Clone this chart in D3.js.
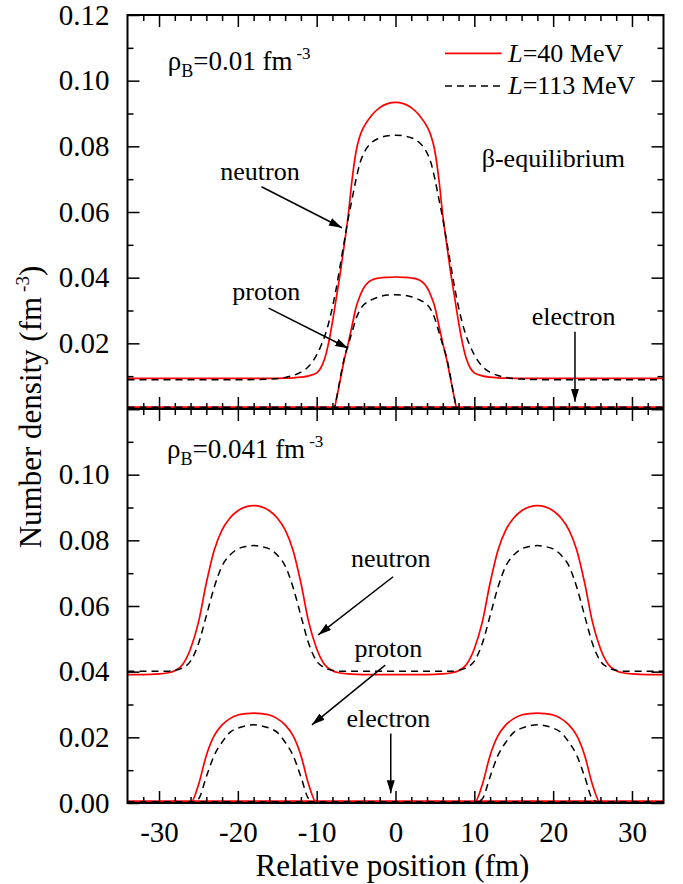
<!DOCTYPE html>
<html><head><meta charset="utf-8">
<script src="https://cdn.jsdelivr.net/npm/d3@7"></script>
<style>
body{margin:0;background:#fff}
svg text{font-family:'Liberation Serif','Times New Roman',Tinos,'Nimbus Roman','DejaVu Serif',serif;fill:#000}
</style>
</head><body>
<svg id="c" width="683" height="884"></svg>
<script>
// ---------------- DATA ----------------
// Top panel (rho_B = 0.01 fm^-3), beta-equilibrium
const topNeutronX = [-34,-20,-16,-14,-13,-12,-11,-10,-9.5,-9,-8.5,-8,-7.5,-7,-6.5,-6,-5.5,-5,-4.5,-4,-3,-2,-1,0,1,2,3,4,4.5,5,5.5,6,6.5,7,7.5,8,8.5,9,9.5,10,11,12,13,14,16,20,34];
const topNeutronL40 = [0.0093,0.0093,0.0093,0.0094,0.0095,0.0097,0.0101,0.0110,0.0124,0.0152,0.0200,0.0265,0.0340,0.0415,0.0500,0.0590,0.0700,0.0785,0.0832,0.0860,0.0895,0.0918,0.0930,
  0.0934,
  0.0930,0.0918,0.0895,0.0860,0.0832,0.0785,0.0700,0.0590,0.0500,0.0415,0.0340,0.0265,0.0200,0.0152,0.0124,0.0110,0.0101,0.0097,0.0095,0.0094,0.0093,0.0093,0.0093];
const topNeutronL113 = [0.0089,0.0089,0.0091,0.0096,0.0102,0.0112,0.0130,0.0165,0.0190,0.0220,0.0260,0.0310,0.0370,0.0440,0.0510,0.0580,0.0640,0.0700,0.0750,0.0780,0.0812,0.0826,0.0832,
  0.0834,
  0.0832,0.0826,0.0812,0.0780,0.0750,0.0700,0.0640,0.0580,0.0510,0.0440,0.0370,0.0310,0.0260,0.0220,0.0190,0.0165,0.0130,0.0112,0.0102,0.0096,0.0091,0.0089,0.0089];

const topProtonX = [-34,-8,-7.8,-7.5,-7,-6.5,-6,-5.5,-5,-4.5,-4,-3.5,-3,-2,-1,0,1,2,3,3.5,4,4.5,5,5.5,6,6.5,7,7.5,7.8,8,34];
const topProtonL40 = [0,0,0,0.0030,0.0090,0.0150,0.0200,0.0255,0.0310,0.0345,0.0370,0.0385,0.0393,0.0399,0.0401,
  0.0402,
  0.0401,0.0399,0.0393,0.0385,0.0370,0.0345,0.0310,0.0255,0.0200,0.0150,0.0090,0.0030,0,0,0];
const topProtonL113 = [0,0,0,0.0030,0.0095,0.0155,0.0195,0.0235,0.0275,0.0302,0.0318,0.0327,0.0333,0.0342,0.0347,
  0.0348,
  0.0347,0.0342,0.0333,0.0327,0.0318,0.0302,0.0275,0.0235,0.0195,0.0155,0.0095,0.0030,0,0,0];

const electronX = [-34,34];
const topElectronL40 = [0.0006,0.0006];
const topElectronL113 = [0.0005,0.0005];

// Bottom panel (rho_B = 0.041 fm^-3)
const botX = [-34,-32,-30,-29,-28,-27,-26,-25,-24,-23,-22,-21,-20,-19,-18,-17,-16,-15,-14,-13,-12,-11,-10,-9,-8,-7,-6,-4,-2,0,2,4,6,7,8,9,10,11,12,13,14,15,16,17,18,19,20,21,22,23,24,25,26,27,28,29,30,32,34];
const botNeutronL40 = [0.0391,0.0391,0.0393,0.0396,0.0403,0.0422,0.0470,0.0550,0.0670,0.0770,0.0832,0.0868,0.0890,0.0902,0.0906,0.0902,0.0890,0.0868,0.0832,0.0770,0.0670,0.0550,0.0470,0.0422,0.0403,0.0396,0.0393,0.0391,0.0391,0.0391,
  0.0391,0.0391,0.0393,0.0396,0.0403,0.0422,0.0470,0.0550,0.0670,0.0770,0.0832,0.0868,0.0890,0.0902,0.0906,0.0902,0.0890,0.0868,0.0832,0.0770,0.0670,0.0550,0.0470,0.0422,0.0403,0.0396,0.0393,0.0391,0.0391];
const botNeutronL113 = [0.0401,0.0401,0.0401,0.0401,0.0404,0.0412,0.0432,0.0485,0.0570,0.0657,0.0722,0.0755,0.0774,0.0781,0.0784,0.0781,0.0774,0.0755,0.0722,0.0657,0.0570,0.0485,0.0432,0.0412,0.0404,0.0401,0.0401,0.0401,0.0401,0.0401,
  0.0401,0.0401,0.0401,0.0401,0.0404,0.0412,0.0432,0.0485,0.0570,0.0657,0.0722,0.0755,0.0774,0.0781,0.0784,0.0781,0.0774,0.0755,0.0722,0.0657,0.0570,0.0485,0.0432,0.0412,0.0404,0.0401,0.0401,0.0401,0.0401];
const botProtonL40 = [0,0,0,0,0,0,0,0.0055,0.0145,0.0205,0.0238,0.0257,0.0268,0.0272,0.0274,0.0272,0.0268,0.0257,0.0238,0.0205,0.0145,0.0055,0,0,0,0,0,0,0,0,
  0,0,0,0,0,0,0,0.0055,0.0145,0.0205,0.0238,0.0257,0.0268,0.0272,0.0274,0.0272,0.0268,0.0257,0.0238,0.0205,0.0145,0.0055,0,0,0,0,0,0,0];
const botProtonL113 = [0,0,0,0,0,0,0,0.0012,0.0080,0.0145,0.0185,0.0215,0.0228,0.0235,0.0238,0.0235,0.0228,0.0215,0.0185,0.0145,0.0080,0.0012,0,0,0,0,0,0,0,0,
  0,0,0,0,0,0,0,0.0012,0.0080,0.0145,0.0185,0.0215,0.0228,0.0235,0.0238,0.0235,0.0228,0.0215,0.0185,0.0145,0.0080,0.0012,0,0,0,0,0,0,0];
const botElectronL40 = [0.0006,0.0006];
const botElectronL113 = [0.0004,0.0004];

// Ticks
const xMajorTicks = [-30,-20,-10,0,10,20,30];
const xMinorTicks = [-32,-28,-26,-24,-22,-18,-16,-14,-12,-8,-6,-4,-2,2,4,6,8,12,14,16,18,22,24,26,28,32];
const yMajorTicks = [0,0.02,0.04,0.06,0.08,0.10,0.12];
const yMinorTicks = [0.01,0.03,0.05,0.07,0.09,0.11];
const topYLabels = ["","0.02","0.04","0.06","0.08","0.10","0.12"];
const botYLabels = ["0.00","0.02","0.04","0.06","0.08","0.10",""];
const xLabels = ["-30","-20","-10","0","10","20","30"];

const seriesNames = ["L=40 MeV","L=113 MeV"];

// ---------------- LAYOUT ----------------
const L = 127.5, R = 663.5, T = 15, M = 409, B = 803;
const FONT_TICK = 29, FONT_TITLE = 30, FONT_ANN = 26;
const SERIF = "'Liberation Serif','Times New Roman',Tinos,'Nimbus Roman','DejaVu Serif',serif";
const RED = "#ff0000";
const DASH = "7,5";

const svg = d3.select("#c").attr("font-family", SERIF);
const x = d3.scaleLinear().domain([-34,34]).range([L,R]);
const yTop = d3.scaleLinear().domain([0,0.12]).range([M,T]);
const yBot = d3.scaleLinear().domain([0,0.12]).range([B,M]);

const defs = svg.append("defs");
defs.append("marker").attr("id","arr").attr("markerUnits","userSpaceOnUse")
  .attr("markerWidth",14).attr("markerHeight",10).attr("refX",13).attr("refY",4)
  .attr("orient","auto")
  .append("path").attr("d","M0,0 L13,4 L0,8 Z").attr("fill","#000");
defs.append("clipPath").attr("id","clipTop").append("rect")
  .attr("x",L).attr("y",T).attr("width",R-L).attr("height",M-T);
defs.append("clipPath").attr("id","clipBot").append("rect")
  .attr("x",L).attr("y",M).attr("width",R-L).attr("height",B-M);

// ---------------- CURVES ----------------
function drawSeries(clip, y, xs, ys, style){
  const pts = xs.map((v,i)=>[v, ys[i]]);
  const line = d3.line().x(d=>x(d[0])).y(d=>y(d[1])).curve(d3.curveMonotoneX);
  const p = svg.append("path").attr("clip-path",`url(#${clip})`)
    .attr("d", line(pts)).attr("fill","none");
  if(style==="red") p.attr("stroke",RED).attr("stroke-width",1.7);
  else p.attr("stroke","#000").attr("stroke-width",1.5).attr("stroke-dasharray",DASH);
}
drawSeries("clipTop", yTop, topNeutronX, topNeutronL40, "red");
drawSeries("clipTop", yTop, topProtonX, topProtonL40, "red");
drawSeries("clipTop", yTop, electronX, topElectronL40, "red");
drawSeries("clipBot", yBot, botX, botNeutronL40, "red");
drawSeries("clipBot", yBot, botX, botProtonL40, "red");
drawSeries("clipBot", yBot, electronX, botElectronL40, "red");
drawSeries("clipTop", yTop, topNeutronX, topNeutronL113, "black");
drawSeries("clipTop", yTop, topProtonX, topProtonL113, "black");
drawSeries("clipTop", yTop, electronX, topElectronL113, "black");
drawSeries("clipBot", yBot, botX, botNeutronL113, "black");
drawSeries("clipBot", yBot, botX, botProtonL113, "black");
drawSeries("clipBot", yBot, electronX, botElectronL113, "black");

// ---------------- AXES ----------------
function styleAxis(g){
  g.select(".domain").remove();
  g.attr("font-family", SERIF).attr("font-size", FONT_TICK);
  g.selectAll(".tick line").attr("stroke","#000").attr("stroke-width",1.5);
  g.selectAll("text").attr("fill","#000");
}
function xAxes(yPos, orientTop, withLabels){
  const mk = orientTop ? d3.axisTop : d3.axisBottom;
  svg.append("g").attr("transform",`translate(0,${yPos})`)
    .call(mk(x).tickValues(xMajorTicks).tickSize(-12).tickPadding(18)
      .tickFormat((d,i)=> withLabels ? xLabels[i] : ""))
    .call(styleAxis);
  svg.append("g").attr("transform",`translate(0,${yPos})`)
    .call(mk(x).tickValues(xMinorTicks).tickSize(-6).tickFormat(""))
    .call(styleAxis);
}
function yAxes(y, labels){
  svg.append("g").attr("transform",`translate(${L},0)`)
    .call(d3.axisLeft(y).tickValues(yMajorTicks).tickSize(-12).tickPadding(18)
      .tickFormat((d,i)=>labels[i]))
    .call(styleAxis);
  svg.append("g").attr("transform",`translate(${L},0)`)
    .call(d3.axisLeft(y).tickValues(yMinorTicks).tickSize(-6).tickFormat(""))
    .call(styleAxis);
  svg.append("g").attr("transform",`translate(${R},0)`)
    .call(d3.axisRight(y).tickValues(yMajorTicks).tickSize(-12).tickFormat(""))
    .call(styleAxis);
  svg.append("g").attr("transform",`translate(${R},0)`)
    .call(d3.axisRight(y).tickValues(yMinorTicks).tickSize(-6).tickFormat(""))
    .call(styleAxis);
}
xAxes(T, true, false);
xAxes(M, false, false);
xAxes(M, true, false);
xAxes(B, false, true);
yAxes(yTop, topYLabels);
yAxes(yBot, botYLabels);

svg.append("rect").attr("x",L).attr("y",T).attr("width",R-L).attr("height",B-T)
  .attr("fill","none").attr("stroke","#000").attr("stroke-width",2);
svg.append("line").attr("x1",L).attr("x2",R).attr("y1",M).attr("y2",M)
  .attr("stroke","#000").attr("stroke-width",2);

// ---------------- TITLES ----------------
svg.append("text").attr("x",(L+R)/2 - 3).attr("y",876).attr("text-anchor","middle")
  .attr("font-size",FONT_TITLE + 1).text("Relative position (fm)");

const yt = svg.append("text").attr("transform",`translate(41,${(T+B)/2 - 2}) rotate(-90)`)
  .attr("text-anchor","middle").attr("font-size",FONT_TITLE + 1);
yt.append("tspan").text("Number density (fm");
yt.append("tspan").attr("dx",5).attr("dy",-12).attr("font-size",19).text("-3");
yt.append("tspan").attr("dy",12).text(")");

// ---------------- ANNOTATIONS ----------------
function rhoLabel(xv, y, yv, val){
  const t = svg.append("text").attr("x",x(xv)).attr("y",y(yv)).attr("font-size",FONT_ANN + 1);
  t.append("tspan").text("ρ");
  t.append("tspan").attr("dy",7).attr("font-size",18).text("B");
  t.append("tspan").attr("dy",-7).text("=" + val + " fm");
  t.append("tspan").attr("dx",4).attr("dy",-11).attr("font-size",17).text("-3");
}
rhoLabel(-28.9, yTop, 0.1033, "0.01");
rhoLabel(-29.0, yBot, 0.105, "0.041");

function annText(xv, y, yv, str, anchor){
  svg.append("text").attr("x",x(xv)).attr("y",y(yv)).attr("font-size",FONT_ANN)
    .attr("text-anchor",anchor||"middle").text(str);
}
function arrow(y, x1, y1, x2, y2){
  svg.append("line").attr("x1",x(x1)).attr("y1",y(y1)).attr("x2",x(x2)).attr("y2",y(y2))
    .attr("stroke","#000").attr("stroke-width",1.5).attr("marker-end","url(#arr)");
}
annText(-17.2, yTop, 0.0698, "neutron");
arrow(yTop, -17.0, 0.0677, -6.8, 0.0552);
annText(-16.4, yTop, 0.0332, "proton");
arrow(yTop, -16.1, 0.0307, -6.0, 0.0185);
annText(22.6, yTop, 0.0256, "electron");
arrow(yTop, 22.77, 0.0235, 22.77, 0.0022);
annText(10.94, yTop, 0.0738, "β-equilibrium", "start");
annText(-0.6, yBot, 0.072, "neutron");
arrow(yBot, -0.3, 0.0689, -9.8, 0.0512);
annText(-0.9, yBot, 0.0446, "proton");
arrow(yBot, -1.3, 0.0420, -10.6, 0.0238);
annText(-0.9, yBot, 0.0232, "electron");
arrow(yBot, -0.6, 0.0212, -0.6, 0.0030);

// ---------------- LEGEND ----------------
const legY = [0.1083, 0.0984];
const legStyles = ["red","black"];
seriesNames.forEach((name,i)=>{
  const ln = svg.append("line").attr("x1",x(6.28)).attr("x2",x(13.47))
    .attr("y1",yTop(legY[i])).attr("y2",yTop(legY[i]));
  if(legStyles[i]==="red") ln.attr("stroke",RED).attr("stroke-width",1.7);
  else ln.attr("stroke","#000").attr("stroke-width",1.5).attr("stroke-dasharray",DASH);
  const t = svg.append("text").attr("x",x(14.3)).attr("y",yTop(legY[i]) + 8.5).attr("font-size",FONT_ANN);
  const parts = name.split("=");
  t.append("tspan").attr("font-style","italic").text(parts[0]);
  t.append("tspan").text("=" + parts[1]);
});
</script>
</body></html>
